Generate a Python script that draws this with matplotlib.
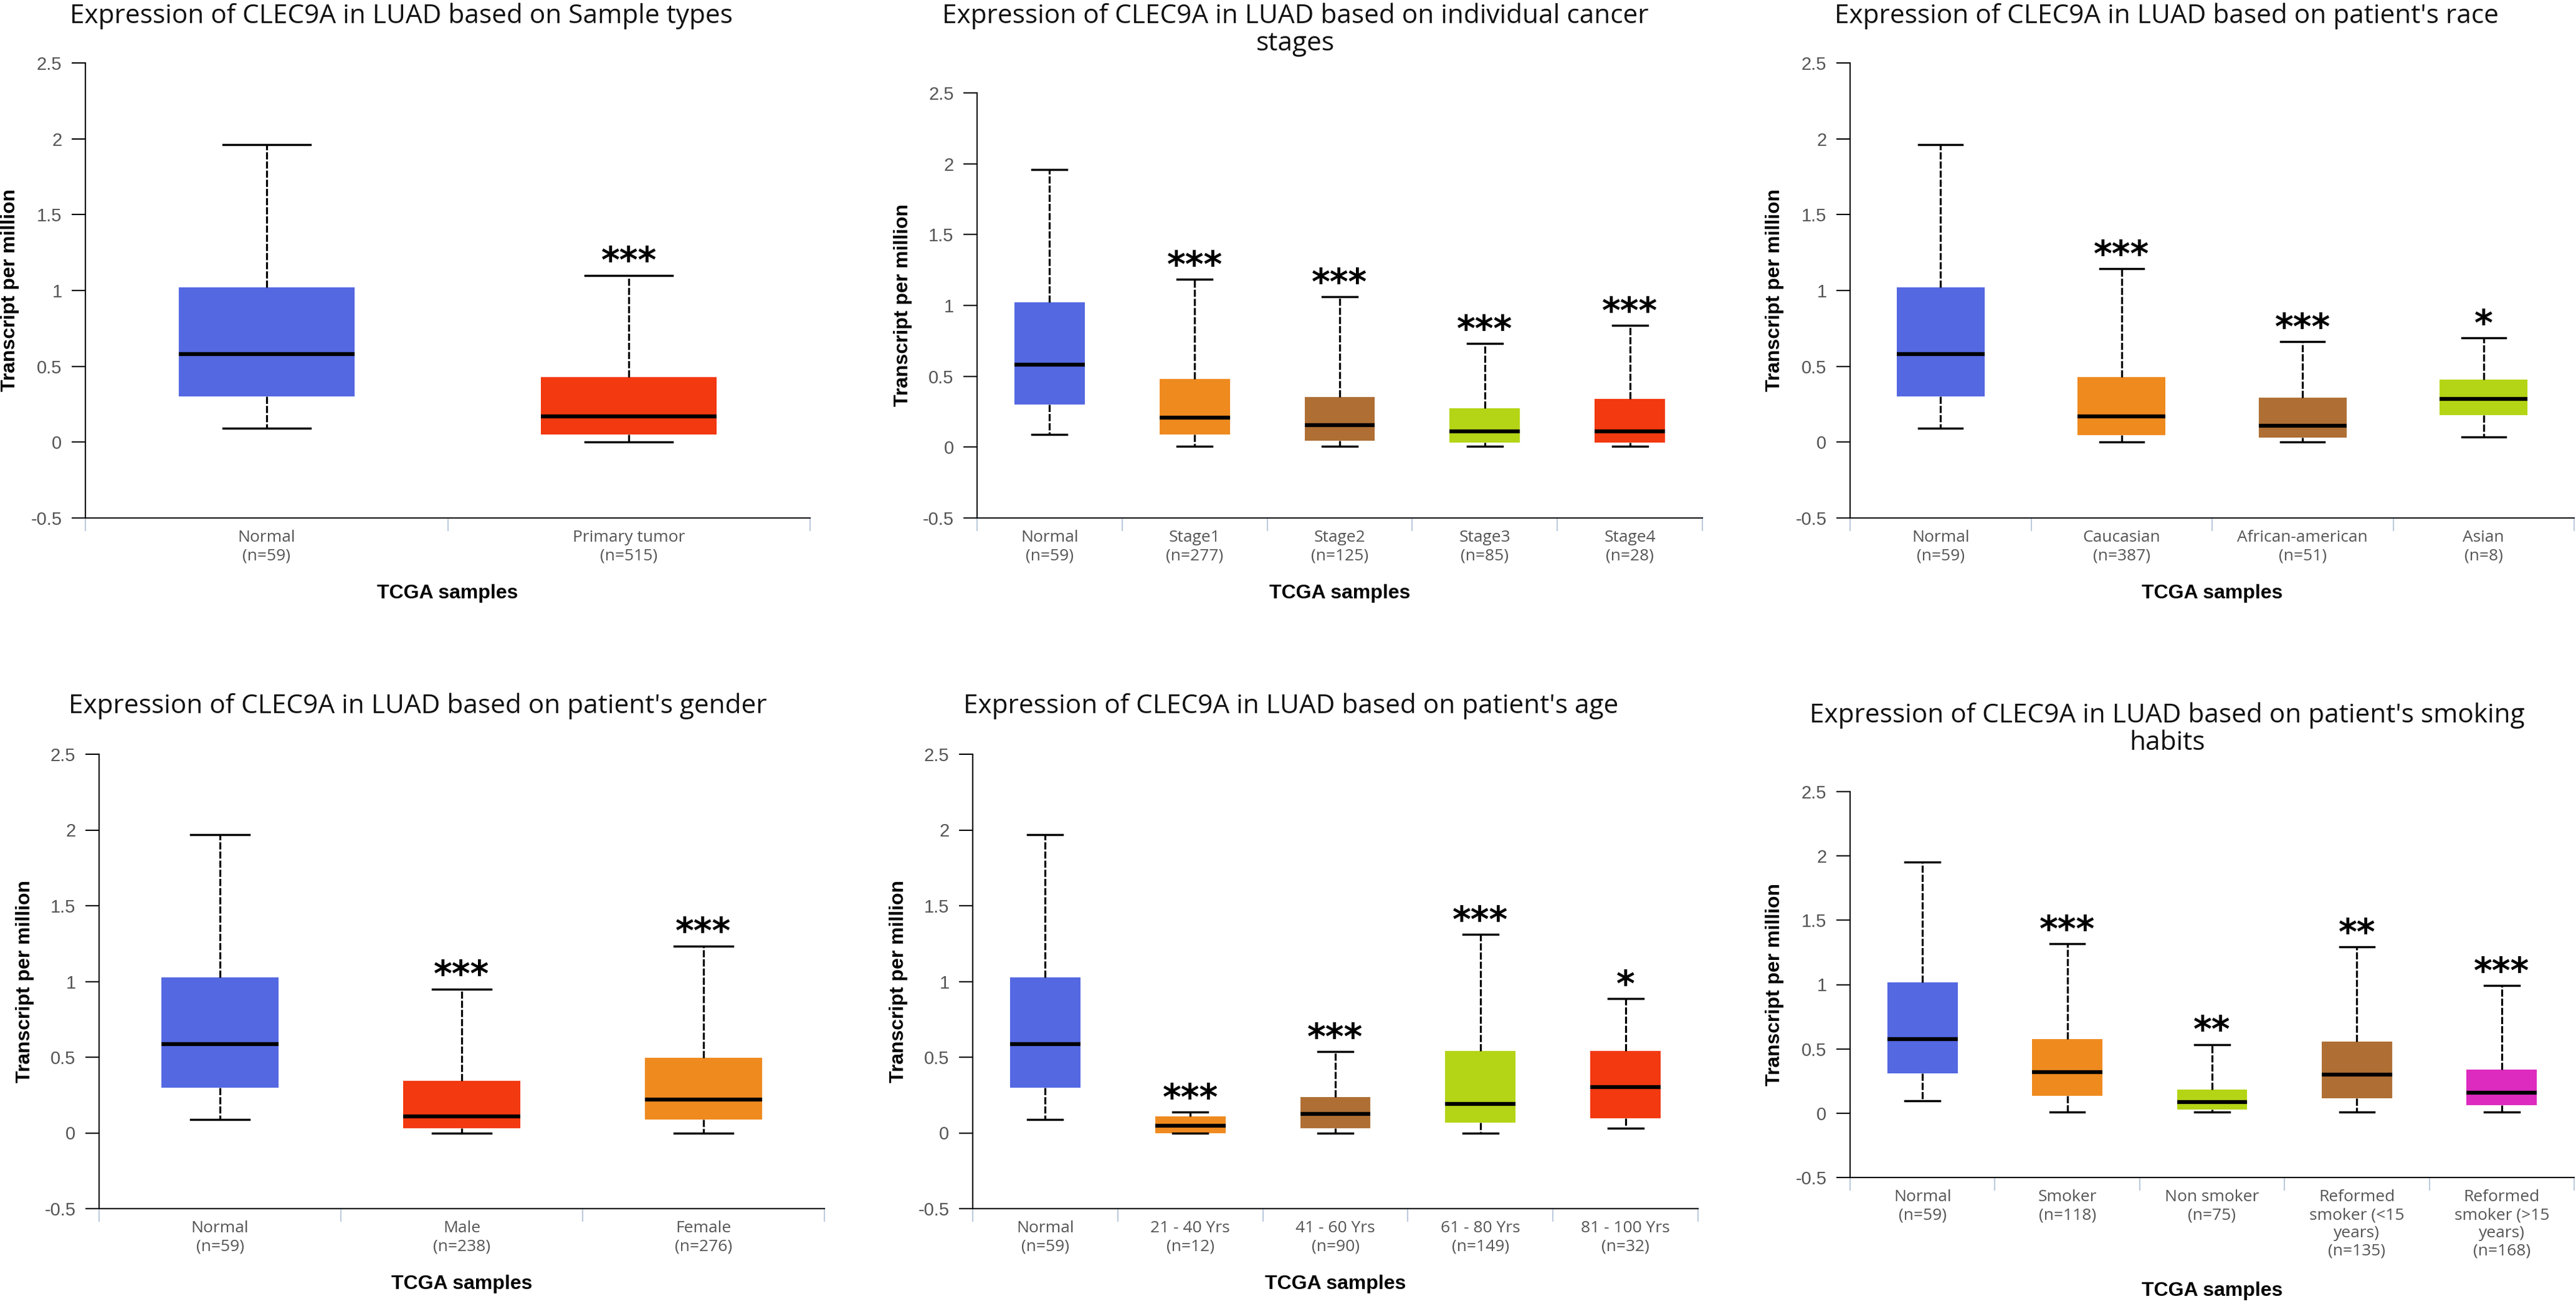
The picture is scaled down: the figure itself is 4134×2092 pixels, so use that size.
import matplotlib
matplotlib.use("Agg")
import matplotlib.pyplot as plt

W, H = 4134, 2092
DPI = 100

BLUE = "#5468e2"
ORANGE = "#ef8a1f"
BROWN = "#af6f34"
LIME = "#b4d516"
RED = "#f2390f"
MAGENTA = "#de2bbf"

YTICKS = [-0.5, 0, 0.5, 1, 1.5, 2, 2.5]
YTICK_LABELS = ["-0.5", "0", "0.5", "1", "1.5", "2", "2.5"]

# sample types
TYPE_LABELS = ["Normal", "Primary tumor"]
TYPE_N = [59, 515]
TYPE_LOW = [0.09, 0.0]
TYPE_Q1 = [0.30, 0.05]
TYPE_MED = [0.58, 0.17]
TYPE_Q3 = [1.02, 0.43]
TYPE_HIGH = [1.96, 1.10]
TYPE_COLORS = [BLUE, RED]
TYPE_STARS = ["", "***"]

# cancer stages
STAGE_LABELS = ["Normal", "Stage1", "Stage2", "Stage3", "Stage4"]
STAGE_N = [59, 277, 125, 85, 28]
STAGE_LOW = [0.09, 0.005, 0.005, 0.005, 0.005]
STAGE_Q1 = [0.30, 0.09, 0.045, 0.034, 0.034]
STAGE_MED = [0.58, 0.21, 0.156, 0.111, 0.111]
STAGE_Q3 = [1.02, 0.48, 0.352, 0.273, 0.338]
STAGE_HIGH = [1.96, 1.185, 1.06, 0.73, 0.858]
STAGE_COLORS = [BLUE, ORANGE, BROWN, LIME, RED]
STAGE_STARS = ["", "***", "***", "***", "***"]

# race
RACE_LABELS = ["Normal", "Caucasian", "African-american", "Asian"]
RACE_N = [59, 387, 51, 8]
RACE_LOW = [0.09, 0.0, 0.0, 0.035]
RACE_Q1 = [0.30, 0.048, 0.029, 0.179]
RACE_MED = [0.58, 0.171, 0.107, 0.286]
RACE_Q3 = [1.02, 0.428, 0.294, 0.414]
RACE_HIGH = [1.96, 1.144, 0.663, 0.687]
RACE_COLORS = [BLUE, ORANGE, BROWN, LIME]
RACE_STARS = ["", "***", "***", "*"]

# gender
GENDER_LABELS = ["Normal", "Male", "Female"]
GENDER_N = [59, 238, 276]
GENDER_LOW = [0.09, 0.0, 0.0]
GENDER_Q1 = [0.30, 0.029, 0.088]
GENDER_MED = [0.585, 0.111, 0.219]
GENDER_Q3 = [1.026, 0.342, 0.497]
GENDER_HIGH = [1.97, 0.95, 1.234]
GENDER_COLORS = [BLUE, RED, ORANGE]
GENDER_STARS = ["", "***", "***"]

# age
AGE_LABELS = ["Normal", "21 - 40 Yrs", "41 - 60 Yrs", "61 - 80 Yrs", "81 - 100 Yrs"]
AGE_N = [59, 12, 90, 149, 32]
AGE_LOW = [0.09, 0.0, 0.0, 0.0, 0.032]
AGE_Q1 = [0.30, 0.0, 0.029, 0.067, 0.096]
AGE_MED = [0.585, 0.047, 0.126, 0.193, 0.301]
AGE_Q3 = [1.026, 0.111, 0.237, 0.541, 0.541]
AGE_HIGH = [1.97, 0.137, 0.535, 1.31, 0.886]
AGE_COLORS = [BLUE, ORANGE, BROWN, LIME, RED]
AGE_STARS = ["", "***", "***", "***", "*"]

# smoking habits
SMOKE_LABELS = ["Normal", "Smoker", "Non smoker", "Reformed\nsmoker (<15\nyears)",
                "Reformed\nsmoker (>15\nyears)"]
SMOKE_N = [59, 118, 75, 135, 168]
SMOKE_LOW = [0.095, 0.01, 0.01, 0.01, 0.01]
SMOKE_Q1 = [0.307, 0.135, 0.027, 0.115, 0.061]
SMOKE_MED = [0.578, 0.321, 0.088, 0.30, 0.159]
SMOKE_Q3 = [1.017, 0.578, 0.182, 0.557, 0.338]
SMOKE_HIGH = [1.95, 1.318, 0.534, 1.294, 0.993]
SMOKE_COLORS = [BLUE, ORANGE, LIME, BROWN, MAGENTA]
SMOKE_STARS = ["", "***", "**", "**", "***"]

TITLE = "Expression of CLEC9A in LUAD based on "
TITLES = [
    TITLE + "Sample types",
    TITLE + "individual cancer\nstages",
    TITLE + "patient's race",
    TITLE + "patient's gender",
    TITLE + "patient's age",
    TITLE + "patient's smoking\nhabits",
]

# pixel layout: axes left, right, top, bottom; title x,y; ylabel x; xlabel y
LAYOUT = [
    (137, 1300, 101, 831, 644, 26, 16, 952),
    (1568, 2732, 149, 831, 2079, 48, 1449, 952),
    (2969, 4131, 101, 831, 3477, 26, 2848, 952),
    (159, 1323, 1210, 1939, 670, 1133, 40, 2060),
    (1561, 2725, 1210, 1939, 2072, 1133, 1442, 2060),
    (2969, 4131, 1270, 1889, 3478, 1170, 2848, 2071),
]

PANELS = [
    (TYPE_LABELS, TYPE_N, TYPE_LOW, TYPE_Q1, TYPE_MED, TYPE_Q3, TYPE_HIGH, TYPE_COLORS, TYPE_STARS),
    (STAGE_LABELS, STAGE_N, STAGE_LOW, STAGE_Q1, STAGE_MED, STAGE_Q3, STAGE_HIGH, STAGE_COLORS, STAGE_STARS),
    (RACE_LABELS, RACE_N, RACE_LOW, RACE_Q1, RACE_MED, RACE_Q3, RACE_HIGH, RACE_COLORS, RACE_STARS),
    (GENDER_LABELS, GENDER_N, GENDER_LOW, GENDER_Q1, GENDER_MED, GENDER_Q3, GENDER_HIGH, GENDER_COLORS, GENDER_STARS),
    (AGE_LABELS, AGE_N, AGE_LOW, AGE_Q1, AGE_MED, AGE_Q3, AGE_HIGH, AGE_COLORS, AGE_STARS),
    (SMOKE_LABELS, SMOKE_N, SMOKE_LOW, SMOKE_Q1, SMOKE_MED, SMOKE_Q3, SMOKE_HIGH, SMOKE_COLORS, SMOKE_STARS),
]

TITLE_FONT = ["Open Sans", "DejaVu Sans"]
TICK_FONT = ["Open Sans", "DejaVu Sans"]
NUM_FONT = ["Liberation Sans", "DejaVu Sans"]
BOLD_FONT = ["Liberation Sans", "DejaVu Sans"]


def draw_panel(ax, labels, n, low, q1, med, q3, high, colors, stars):
    k = len(labels)
    stats = []
    for i in range(k):
        stats.append(dict(whislo=low[i], q1=q1[i], med=med[i], q3=q3[i],
                          whishi=high[i], fliers=[]))
    pos = list(range(1, k + 1))
    bp = ax.bxp(stats, positions=pos, widths=0.485, capwidths=0.24,
                patch_artist=True, showfliers=False,
                boxprops=dict(linewidth=0),
                whiskerprops=dict(color="black", linewidth=2.3,
                                  linestyle=(0, (3.6, 1.0))),
                capprops=dict(color="black", linewidth=2.5),
                medianprops=dict(color="black", linewidth=4.5,
                                 solid_capstyle="butt"),
                manage_ticks=False)
    for patch, c in zip(bp["boxes"], colors):
        patch.set_facecolor(c)
        patch.set_edgecolor(c)

    for i in range(k):
        if stars[i]:
            ax.annotate(stars[i], (pos[i], high[i]), xytext=(0, 3),
                        textcoords="offset points", ha="center",
                        va="baseline", fontsize=41, fontweight="bold",
                        family="DejaVu Sans")

    ax.set_xlim(0.5, k + 0.5)
    ax.set_ylim(-0.5, 2.5)
    ax.set_yticks(YTICKS)
    ax.set_yticklabels(YTICK_LABELS, family=NUM_FONT)
    ax.set_xticks(pos)
    ax.set_xticklabels(["%s\n(n=%d)" % (lab, cnt) for lab, cnt in zip(labels, n)],
                       family=TICK_FONT, linespacing=1.2)
    ax.set_xticks([p + 0.5 for p in range(k + 1)], minor=True)

    ax.tick_params(axis="y", length=16, width=1.5, color="black",
                   labelsize=21, labelcolor="#555555", pad=11)
    ax.tick_params(axis="x", which="major", length=0, labelsize=19,
                   labelcolor="#555555", pad=14)
    ax.tick_params(axis="x", which="minor", length=15, width=1.5,
                   color="#bccbdd")
    for s in ["top", "right"]:
        ax.spines[s].set_visible(False)
    for s in ["left", "bottom"]:
        ax.spines[s].set_linewidth(1.5)
        ax.spines[s].set_color("black")


fig = plt.figure(figsize=(W / DPI, H / DPI), dpi=DPI)
fig.patch.set_facecolor("white")

for idx, (panel, lay) in enumerate(zip(PANELS, LAYOUT)):
    left, right, top, bottom, tx, ty, ylx, xly = lay
    ax = fig.add_axes([left / W, 1 - bottom / H, (right - left) / W, (bottom - top) / H])
    draw_panel(ax, *panel)
    fig.text(tx / W, 1 - ty / H, TITLES[idx], ha="center", va="center",
             fontsize=30.5, family=TITLE_FONT, linespacing=1.05, color="#111111")
    fig.text(ylx / W, 1 - (top + bottom) / 2 / H, "Transcript per million",
             rotation=90, ha="center", va="center", fontsize=23,
             fontweight="bold", family=BOLD_FONT)
    fig.text((left + right) / 2 / W, 1 - xly / H, "TCGA samples",
             ha="center", va="center", fontsize=23, fontweight="bold",
             family=BOLD_FONT)

fig.savefig("out.png", dpi=DPI, facecolor="white")
